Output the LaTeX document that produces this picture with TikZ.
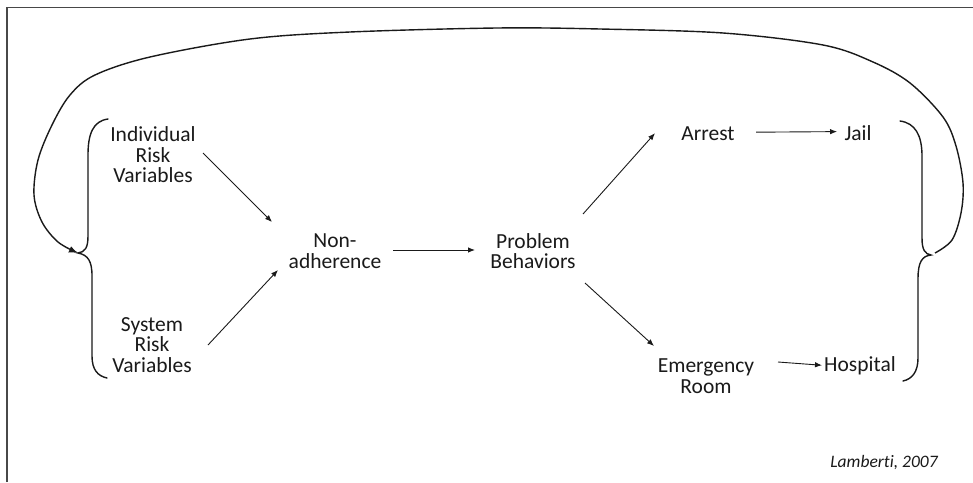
\documentclass[tikz,border=0pt]{standalone}
\usepackage{fontspec}
\setmainfont{Carlito}[Ligatures=NoCommon]
\usetikzlibrary{arrows.meta,calc}
\definecolor{ink}{HTML}{1A1A1A}
\tikzset{
  lbl/.style={align=center, inner sep=0pt, text=ink, font=\fontsize{21.5}{20.5}\selectfont},
  arr/.style={draw=ink, line width=0.9pt, -{Latex[length=7pt,width=5.5pt]}},
  brace/.style={draw=ink, line width=1.4pt, line cap=round},
  loop/.style={draw=ink, line width=1.4pt, -{Latex[length=9pt,width=7pt]}},
  frame/.style={draw=ink!80, line width=1.3pt}
}
\begin{document}
\begin{tikzpicture}[x=1pt,y=-1pt]
\useasboundingbox (0,0) rectangle (973,482);
\fill[white] (0,0) rectangle (973,482);
\draw[frame] (7,482) -- (7,7.5) -- (973,7.5);

% nodes
\node[lbl] (ind) at (153,155) {Individual\\Risk\\Variables};
\node[lbl] (sys) at (152,345) {System\\Risk\\Variables};
\node[lbl] (non) at (335,251) {Non-\\adherence};
\node[lbl] (prob) at (533,251) {Problem\\Behaviors};
\node[lbl, anchor=base] (arrest) at (708,140) {Arrest};
\node[lbl, anchor=base] (jail) at (858,140) {Jail};
\node[lbl] (er) at (706,376) {Emergency\\Room};
\node[lbl, anchor=base] (hosp) at (860,371) {Hospital};
\node[inner sep=0pt, text=ink, font=\fontsize{17.5}{20}\selectfont\itshape, anchor=base] (lam) at (884,467) {Lamberti, 2007};

% connectors
\draw[arr] ([shift={(50,-2)}]ind.center) -- ([shift={(-63,-29)}]non.center);
\draw[arr] ([shift={(56,0)}]sys.center) -- ([shift={(-57,19)}]non.center);
\draw[arr] ([shift={(58,-1)}]non.center) -- ([shift={(-58,-1)}]prob.center);
\draw[arr] ([shift={(50,-37)}]prob.center) -- ([shift={(-53,-0)}]arrest.center);
\draw[arr] ([shift={(52,32)}]prob.center) -- ([shift={(-52,-30)}]er.center);
\draw[arr] ([shift={(48,-1)}]arrest.center) -- ([shift={(-21,-1)}]jail.center);
\draw[arr] ([shift={(72,-14)}]er.center) -- ([shift={(-38,0)}]hosp.center);

% braces
\coordinate (lcusp) at (78,253);
\coordinate (rcusp) at (931,255);
\draw[brace] (108,119) .. controls (93,121) and (88,134) .. (88,155) -- (88,236)
  .. controls (88,248) and (85,252) .. (lcusp)
  .. controls (88,255) and (92,261) .. (92,276) -- (92,356)
  .. controls (92,370) and (98,376) .. (107,378);
\draw[brace] (900,121) .. controls (915,123) and (922,135) .. (922,156) -- (922,238)
  .. controls (922,250) and (925,254) .. (rcusp)
  .. controls (922,256) and (918,262) .. (918,279) -- (918,358)
  .. controls (918,372) and (912,379) .. (903,381);

% feedback loop
\draw[loop] plot[smooth, tension=0.55] coordinates {
  ([shift={(4,-2)}]rcusp) (952,240) (961,213) (963,183) (956,146) (943,117) (910,83)
  (873,62) (823,45) (723,33) (600,29) (497,28) (350,32) (250,39) (150,57)
  (95,75) (70,95) (52,125) (38,160) (34,195) (42,222) (58,242) (lcusp)};
\end{tikzpicture}
\end{document}
